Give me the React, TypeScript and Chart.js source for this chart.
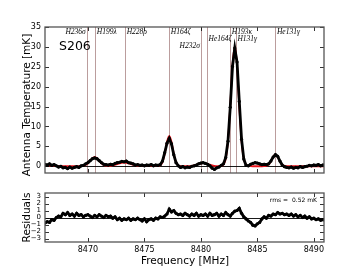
import React, { useEffect, useRef } from "react";
import { Chart, registerables } from "chart.js";
Chart.register(...registerables);

// Frequency grid of the spectrum (MHz)
const FREQ_START = 8466.2;
const FREQ_STEP = 0.2;
const X_MIN = 8466.2;
const X_MAX = 8490.9;

// Observed spectrum (mK)
const spectrum = [
  0.5, 0.3, 0.6, 0.2, 0.4, 0.1, -0.2, 0.0, -0.4, -0.3,
  -0.6, -0.2, -0.5, -0.3, -0.1, -0.3, 0.1, 0.2, 0.6, 0.9,
  1.4, 1.9, 2.1, 1.9, 1.4, 0.9, 0.5, 0.4, 0.3, 0.5,
  0.4, 0.7, 0.9, 1.0, 1.2, 1.1, 1.3, 0.9, 0.8, 0.6,
  0.3, 0.4, 0.2, 0.3, 0.1, 0.3, 0.2, 0.4, 0.1, 0.3,
  0.2, 0.4, 1.3, 3.4, 5.8, 7.0, 5.6, 2.9, 0.9, 0.1,
  -0.3, -0.1, -0.4, -0.2, -0.3, 0.0, 0.1, 0.3, 0.6, 0.8,
  0.9, 0.7, 0.5, 0.1, -0.5, -0.8, -0.4, -0.2, 0.2, 0.6,
  2.2, 6.3, 14.8, 25.1, 29.7, 26.2, 16.3, 6.8, 1.8, 0.2,
  0.1, 0.5, 0.7, 0.9, 0.8, 0.6, 0.4, 0.5, 0.4, 0.6,
  1.3, 2.3, 2.9, 2.5, 1.3, 0.3, -0.1, -0.3, -0.4, -0.2,
  -0.5, -0.3, -0.4, -0.1, -0.3, -0.1, 0.0, 0.2, 0.1, 0.3,
  0.2, 0.4, 0.1, 0.3, 0.2,
];

// Fitted model (mK)
const model = [
  0.25, 0.22, 0.18, 0.14, 0.10, 0.07, 0.05, 0.03, 0.02, 0.01,
  0.01, 0.0, 0.0, 0.01, 0.01, 0.02, 0.03, 0.10, 0.31, 0.75,
  1.40, 2.03, 2.30, 2.03, 1.40, 0.75, 0.32, 0.13, 0.09, 0.12,
  0.22, 0.37, 0.55, 0.72, 0.85, 0.90, 0.85, 0.72, 0.55, 0.37,
  0.22, 0.12, 0.06, 0.03, 0.01, 0.01, 0.01, 0.01, 0.01, 0.01,
  0.03, 0.22, 1.03, 3.12, 6.09, 7.60, 6.09, 3.12, 1.03, 0.22,
  0.03, 0.01, 0.01, 0.02, 0.04, 0.11, 0.22, 0.39, 0.58, 0.74,
  0.80, 0.74, 0.58, 0.39, 0.22, 0.11, 0.04, 0.03, 0.06, 0.40,
  1.89, 6.37, 15.1, 25.4, 30.2, 25.4, 15.1, 6.37, 1.89, 0.40,
  0.06, 0.01, 0.0, 0.0, 0.0, 0.0, 0.0, 0.01, 0.08, 0.41,
  1.23, 2.40, 3.00, 2.40, 1.23, 0.41, 0.08, 0.01, 0.0, 0.0,
  0.0, 0.0, 0.0, 0.0, 0.0, 0.0, 0.0, 0.0, 0.0, 0.0,
  0.0, 0.0, 0.0, 0.0, 0.0,
];

// Residuals (mK)
const residuals = [
  -0.8, -0.6, -0.7, -0.3, -0.4, 0.0, 0.2, 0.1, 0.6, 0.4,
  0.7, 0.3, 0.5, 0.2, 0.6, 0.3, 0.4, 0.1, 0.3, 0.4,
  0.2, 0.0, 0.3, 0.1, 0.4, 0.2, 0.0, 0.3, 0.1, 0.2,
  -0.1, 0.1, -0.3, -0.1, -0.4, -0.2, -0.3, -0.1, -0.4, -0.2,
  -0.3, -0.1, -0.3, -0.5, -0.2, -0.6, -0.3, -0.2, -0.4, -0.1,
  -0.2, 0.1, 0.0, 0.2, 0.5, 1.2, 0.8, 1.0, 0.6, 0.4,
  0.5, 0.3, 0.6, 0.4, 0.2, 0.5, 0.3, 0.6, 0.2, 0.4,
  0.3, 0.5, 0.2, 0.6, 0.3, 0.4, 0.6, 0.2, 0.5, 0.3,
  0.7, 0.4, 0.2, 0.6, 0.9, 1.0, 1.3, 0.6, 0.1, -0.2,
  -0.5, -0.7, -1.1, -1.2, -0.9, -0.7, -0.2, 0.1, -0.1, 0.3,
  0.2, 0.5, 0.4, 0.7, 0.5, 0.6, 0.4, 0.5, 0.3, 0.5,
  0.2, 0.4, 0.1, 0.3, 0.0, 0.2, -0.1, 0.1, -0.2, -0.1,
  -0.3, -0.2, -0.4, -0.3, -0.4,
];

const xTicks = [8470, 8475, 8480, 8485, 8490];
const yTicksTop = [0, 5, 10, 15, 20, 25, 30, 35];
const yTicksRes = [-3, -2, -1, 0, 1, 2, 3];

// Recombination line identifications
const lineNames = ["H236σ", "H199λ", "H228ρ", "H164ζ", "H232σ", "He164ζ", "H193κ", "H131γ", "He131γ"];
const lineFreqs = [8469.9, 8470.65, 8473.3, 8477.2, 8480.0, 8480.55, 8482.6, 8483.1, 8486.6];
const lineRows = [0, 0, 0, 0, 2, 1, 0, 1, 0];
const lineAlign = ["right", "left", "left", "left", "right", "left", "left", "left", "left"];

const SANS = '"DejaVu Sans", sans-serif';

function toPoints(vals: number[]) {
  return vals.map((v, i) => ({ x: FREQ_START + i * FREQ_STEP, y: v }));
}

function drawFrameAndTicks(chart: any, xs: number[], ys: number[]) {
  const { ctx, chartArea: a, scales } = chart;
  ctx.save();
  ctx.strokeStyle = "#000";
  ctx.lineWidth = 0.8;
  const len = 4;
  ctx.beginPath();
  for (const v of xs) {
    const px = Math.round(scales.x.getPixelForValue(v)) + 0.5;
    ctx.moveTo(px, a.bottom);
    ctx.lineTo(px, a.bottom - len);
    ctx.moveTo(px, a.top);
    ctx.lineTo(px, a.top + len);
  }
  for (const v of ys) {
    const py = Math.round(scales.y.getPixelForValue(v)) + 0.5;
    ctx.moveTo(a.left, py);
    ctx.lineTo(a.left + len, py);
    ctx.moveTo(a.right, py);
    ctx.lineTo(a.right - len, py);
  }
  ctx.stroke();
  ctx.strokeStyle = "#555";
  ctx.lineWidth = 1.3;
  ctx.strokeRect(a.left, a.top, a.right - a.left, a.bottom - a.top);
  ctx.restore();
}

function drawZeroLine(chart: any) {
  const { ctx, chartArea: a, scales } = chart;
  const py = Math.round(scales.y.getPixelForValue(0)) + 0.5;
  ctx.save();
  ctx.strokeStyle = "#000";
  ctx.lineWidth = 0.9;
  ctx.beginPath();
  ctx.moveTo(a.left, py);
  ctx.lineTo(a.right, py);
  ctx.stroke();
  ctx.restore();
}

const topPlugin = {
  id: "topDecor",
  beforeDatasetsDraw(chart: any) {
    const { ctx, chartArea: a, scales } = chart;
    ctx.save();
    ctx.strokeStyle = "rgba(175,140,140,0.85)";
    ctx.lineWidth = 1;
    ctx.beginPath();
    for (const f of lineFreqs) {
      const px = Math.round(scales.x.getPixelForValue(f)) + 0.5;
      ctx.moveTo(px, a.top);
      ctx.lineTo(px, a.bottom);
    }
    ctx.stroke();
    ctx.restore();
    drawZeroLine(chart);
  },
  afterDraw(chart: any) {
    const { ctx, scales } = chart;
    drawFrameAndTicks(chart, xTicks, yTicksTop);
    ctx.save();
    ctx.fillStyle = "#000";
    // line labels
    ctx.font = 'italic 7.5px "Liberation Serif", serif';
    ctx.textBaseline = "middle";
    const rowY = [32, 39, 46];
    lineNames.forEach((name, i) => {
      const px = scales.x.getPixelForValue(lineFreqs[i]);
      ctx.textAlign = lineAlign[i] as CanvasTextAlign;
      ctx.fillText(name, lineAlign[i] === "left" ? px + 1.5 : px - 1, rowY[lineRows[i]]);
    });
    // source name
    ctx.font = `12.5px ${SANS}`;
    ctx.textAlign = "left";
    ctx.textBaseline = "alphabetic";
    ctx.fillText("S206", 59, 49.5);
    // y title
    ctx.font = `10.5px ${SANS}`;
    ctx.translate(29.5, 105);
    ctx.rotate(-Math.PI / 2);
    ctx.textAlign = "center";
    ctx.fillText("Antenna Temperature [mK]", 0, 0);
    ctx.restore();
  },
};

const bottomPlugin = {
  id: "bottomDecor",
  beforeDatasetsDraw(chart: any) {
    drawZeroLine(chart);
  },
  afterDraw(chart: any) {
    const { ctx } = chart;
    drawFrameAndTicks(chart, xTicks, yTicksRes);
    ctx.save();
    ctx.fillStyle = "#000";
    ctx.font = `6px ${SANS}`;
    ctx.textAlign = "right";
    ctx.textBaseline = "alphabetic";
    ctx.fillText("rms =  0.52 mK", 317, 202);
    ctx.font = `10.5px ${SANS}`;
    ctx.textAlign = "center";
    ctx.fillText("Frequency [MHz]", 185, 263.5);
    ctx.translate(29.5, 217.5);
    ctx.rotate(-Math.PI / 2);
    ctx.fillText("Residuals", 0, 0);
    ctx.restore();
  },
};

const minusFmt = (v: any) => (Number(v) < 0 ? "\u2212" + Math.abs(Number(v)) : String(v));
const plainFmt = (v: any) => String(v);

export default function App() {
  const topRef = useRef<HTMLCanvasElement | null>(null);
  const botRef = useRef<HTMLCanvasElement | null>(null);

  useEffect(() => {
    const common = {
      responsive: false,
      animation: false as const,
      events: [] as any[],
      plugins: { legend: { display: false }, tooltip: { enabled: false } },
    };
    const top = new Chart(topRef.current as HTMLCanvasElement, {
      type: "line",
      data: {
        datasets: [
          {
            label: "data",
            data: toPoints(spectrum),
            borderColor: "#000",
            borderWidth: 2.8,
            pointRadius: 1.6,
            pointBackgroundColor: "#000",
            pointBorderWidth: 0,
            tension: 0,
          },
          {
            label: "model",
            data: toPoints(model),
            borderColor: "#e8141c",
            borderWidth: 1.8,
            pointRadius: 0,
            cubicInterpolationMode: "monotone",
          },
        ],
      },
      options: {
        ...common,
        layout: { padding: { left: 0, top: 27, right: 36, bottom: 97 } },
        scales: {
          x: {
            type: "linear",
            min: X_MIN,
            max: X_MAX,
            grid: { display: false, drawTicks: false },
            border: { display: false },
            ticks: { display: false },
            afterFit: (s: any) => { s.height = 0; },
          },
          y: {
            type: "linear",
            min: -1.7,
            max: 35,
            grid: { display: false, drawTicks: false },
            border: { display: false },
            afterBuildTicks: (s: any) => { s.ticks = yTicksTop.map((v) => ({ value: v })); },
            ticks: { font: { family: "DejaVu Sans", size: 8 }, color: "#000", padding: 4, callback: plainFmt },
            afterFit: (s: any) => { s.width = 45; },
          },
        },
      } as any,
      plugins: [topPlugin],
    });

    const bot = new Chart(botRef.current as HTMLCanvasElement, {
      type: "line",
      data: {
        datasets: [
          {
            label: "residuals",
            data: toPoints(residuals),
            borderColor: "#000",
            borderWidth: 2.8,
            pointRadius: 1.6,
            pointBackgroundColor: "#000",
            pointBorderWidth: 0,
            tension: 0,
          },
        ],
      },
      options: {
        ...common,
        layout: { padding: { left: 0, top: 193, right: 36, bottom: 0 } },
        scales: {
          x: {
            type: "linear",
            min: X_MIN,
            max: X_MAX,
            grid: { display: false, drawTicks: false },
            border: { display: false },
            afterBuildTicks: (s: any) => { s.ticks = xTicks.map((v) => ({ value: v })); },
            ticks: { font: { family: "DejaVu Sans", size: 8 }, color: "#000", padding: 3, maxRotation: 0, autoSkip: false, callback: plainFmt },
            afterFit: (s: any) => { s.height = 28; },
          },
          y: {
            type: "linear",
            min: -3.5,
            max: 3.5,
            grid: { display: false, drawTicks: false },
            border: { display: false },
            afterBuildTicks: (s: any) => { s.ticks = yTicksRes.map((v) => ({ value: v })); },
            ticks: { font: { family: "DejaVu Sans", size: 7 }, color: "#000", padding: 4, callback: minusFmt, autoSkip: false },
            afterFit: (s: any) => { s.width = 45; },
          },
        },
      } as any,
      plugins: [bottomPlugin],
    });

    return () => {
      top.destroy();
      bot.destroy();
    };
  }, []);

  const cStyle: React.CSSProperties = { position: "absolute", left: 0, top: 0, display: "block" };
  return (
    <div style={{ position: "fixed", left: 0, top: 0, width: 360, height: 270, background: "#fff" }}>
      <canvas ref={botRef} width={360} height={270} style={cStyle} />
      <canvas ref={topRef} width={360} height={270} style={cStyle} />
    </div>
  );
}
